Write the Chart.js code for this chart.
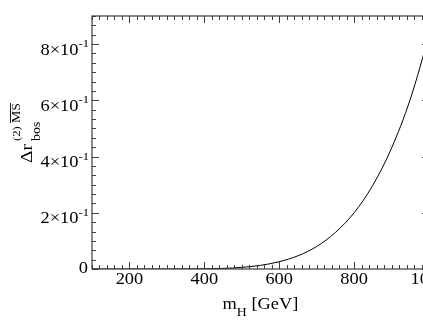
<!DOCTYPE html>
<html>
<head>
<meta charset="utf-8">
<script src="https://cdn.jsdelivr.net/npm/chart.js@4/dist/chart.umd.min.js"></script>
<style>
  html, body { margin: 0; padding: 0; background: #fff; overflow: hidden; }
  canvas { display: block; }
</style>
</head>
<body>
<canvas id="c" width="480" height="327"></canvas>
<script>
// Higgs mass [GeV] and the bosonic two-loop MS-bar contribution
const mH = [100, 150, 200, 250, 300, 350, 400, 450, 500, 550, 600, 650, 700, 750, 800, 850, 900, 950, 1000];
const dr = [0, 0, 0, 0, 0, 0.0002, 0.0007, 0.0022, 0.0058, 0.013, 0.026, 0.047, 0.080, 0.130, 0.200, 0.298, 0.430, 0.604, 0.830];

const xTicks = [200, 400, 600, 800, 1000];
const yTicks = [0, 0.2, 0.4, 0.6, 0.8];
const yTickMant = ['0', '2\u00d710', '4\u00d710', '6\u00d710', '8\u00d710'];
const yTickExp = ['', '-1', '-1', '-1', '-1'];

const FONT = '"Liberation Serif", "Times New Roman", serif';
const SX = 1.15; // text looks a bit wide in the original

function text(ctx, s, x, y, size, align) {
    ctx.save();
    ctx.translate(x, y);
    ctx.scale(SX, 1);
    ctx.font = size + 'px ' + FONT;
    ctx.textAlign = align || 'left';
    ctx.textBaseline = 'alphabetic';
    ctx.fillText(s, 0, 0);
    ctx.restore();
}
function width(ctx, s, size) {
    ctx.font = size + 'px ' + FONT;
    return ctx.measureText(s).width * SX;
}

const framePlugin = {
    id: 'frame',
    afterDraw(chart) {
        const ctx = chart.ctx, a = chart.chartArea;
        const xs = chart.scales.x, ys = chart.scales.y;
        ctx.save();
        ctx.strokeStyle = '#3c3c3c';
        ctx.lineWidth = 1.2;
        ctx.strokeRect(a.left, a.top, a.right - a.left, a.bottom - a.top);

        ctx.beginPath();
        // x ticks, inward, bottom and top
        for (let v = 100; v <= 1000; v += 20) {
            const px = Math.round(xs.getPixelForValue(v)) + 0.5;
            const len = (v % 200 === 0) ? 7 : 4;
            ctx.moveTo(px, a.bottom); ctx.lineTo(px, a.bottom - len);
            ctx.moveTo(px, a.top); ctx.lineTo(px, a.top + len);
        }
        // y ticks, inward, left and right
        for (let i = 0; i <= 27; i++) {
            const py = Math.round(ys.getPixelForValue(i * 0.2 / 6)) + 0.5;
            const len = (i % 6 === 0) ? 7 : 4;
            ctx.moveTo(a.left, py); ctx.lineTo(a.left + len, py);
            ctx.moveTo(a.right, py); ctx.lineTo(a.right - len, py);
        }
        ctx.lineWidth = 1;
        ctx.stroke();

        ctx.fillStyle = '#000';
        // x tick labels
        xTicks.forEach(v => {
            text(ctx, String(v), xs.getPixelForValue(v), a.bottom + 15, 16, 'center');
        });
        // y tick labels
        yTicks.forEach((v, i) => {
            const py = ys.getPixelForValue(v);
            const right = a.left - 3;
            if (yTickExp[i]) {
                text(ctx, yTickExp[i], right, py + 3, 11, 'right');
                const w = width(ctx, yTickExp[i], 11);
                text(ctx, yTickMant[i], right - w, py + 10.5, 16, 'right');
            } else {
                text(ctx, yTickMant[i], right - 1, py + 4, 16, 'right');
            }
        });

        // x title: m_H [GeV]
        const w1 = width(ctx, 'm', 16), w2 = width(ctx, 'H', 12), w3 = width(ctx, ' [GeV]', 16);
        let tx = (a.left + a.right) / 2 - (w1 + w2 + w3) / 2;
        text(ctx, 'm', tx, 308.5, 16); tx += w1;
        text(ctx, 'H', tx, 315.5, 12); tx += w2;
        text(ctx, ' [GeV]', tx, 308.5, 16);

        // y title: Delta r_bos^(2) MS-bar, rotated
        ctx.save();
        ctx.translate(32, 163);
        ctx.rotate(-Math.PI / 2);
        const d1 = width(ctx, '\u0394r', 17);
        text(ctx, '\u0394r', 0, 0, 17);
        text(ctx, 'bos', d1 + 3, 8, 12);
        text(ctx, '(2)', d1 + 3, -12.5, 11);
        const d2 = width(ctx, '(2) ', 11);
        text(ctx, 'MS', d1 + 3 + d2, -12.5, 12);
        const wMS = width(ctx, 'MS', 12);
        ctx.beginPath();
        ctx.moveTo(d1 + 3 + d2, -21.5);
        ctx.lineTo(d1 + 3 + d2 + wMS, -21.5);
        ctx.strokeStyle = '#000';
        ctx.lineWidth = 0.9;
        ctx.stroke();
        ctx.restore();

        ctx.restore();
    }
};

new Chart(document.getElementById('c'), {
    type: 'line',
    data: {
        datasets: [{
            data: mH.map((m, i) => ({ x: m, y: dr[i] })),
            borderColor: '#000',
            borderWidth: 1,
            pointRadius: 0,
            cubicInterpolationMode: 'monotone',
            fill: false
        }]
    },
    options: {
        responsive: false,
        animation: false,
        layout: { padding: { left: 92, top: 16, right: 51, bottom: 58 } },
        plugins: { legend: { display: false }, tooltip: { enabled: false } },
        scales: {
            x: { type: 'linear', min: 100, max: 1000, display: false },
            y: { type: 'linear', min: 0, max: 0.9, display: false }
        }
    },
    plugins: [framePlugin]
});
</script>
</body>
</html>
